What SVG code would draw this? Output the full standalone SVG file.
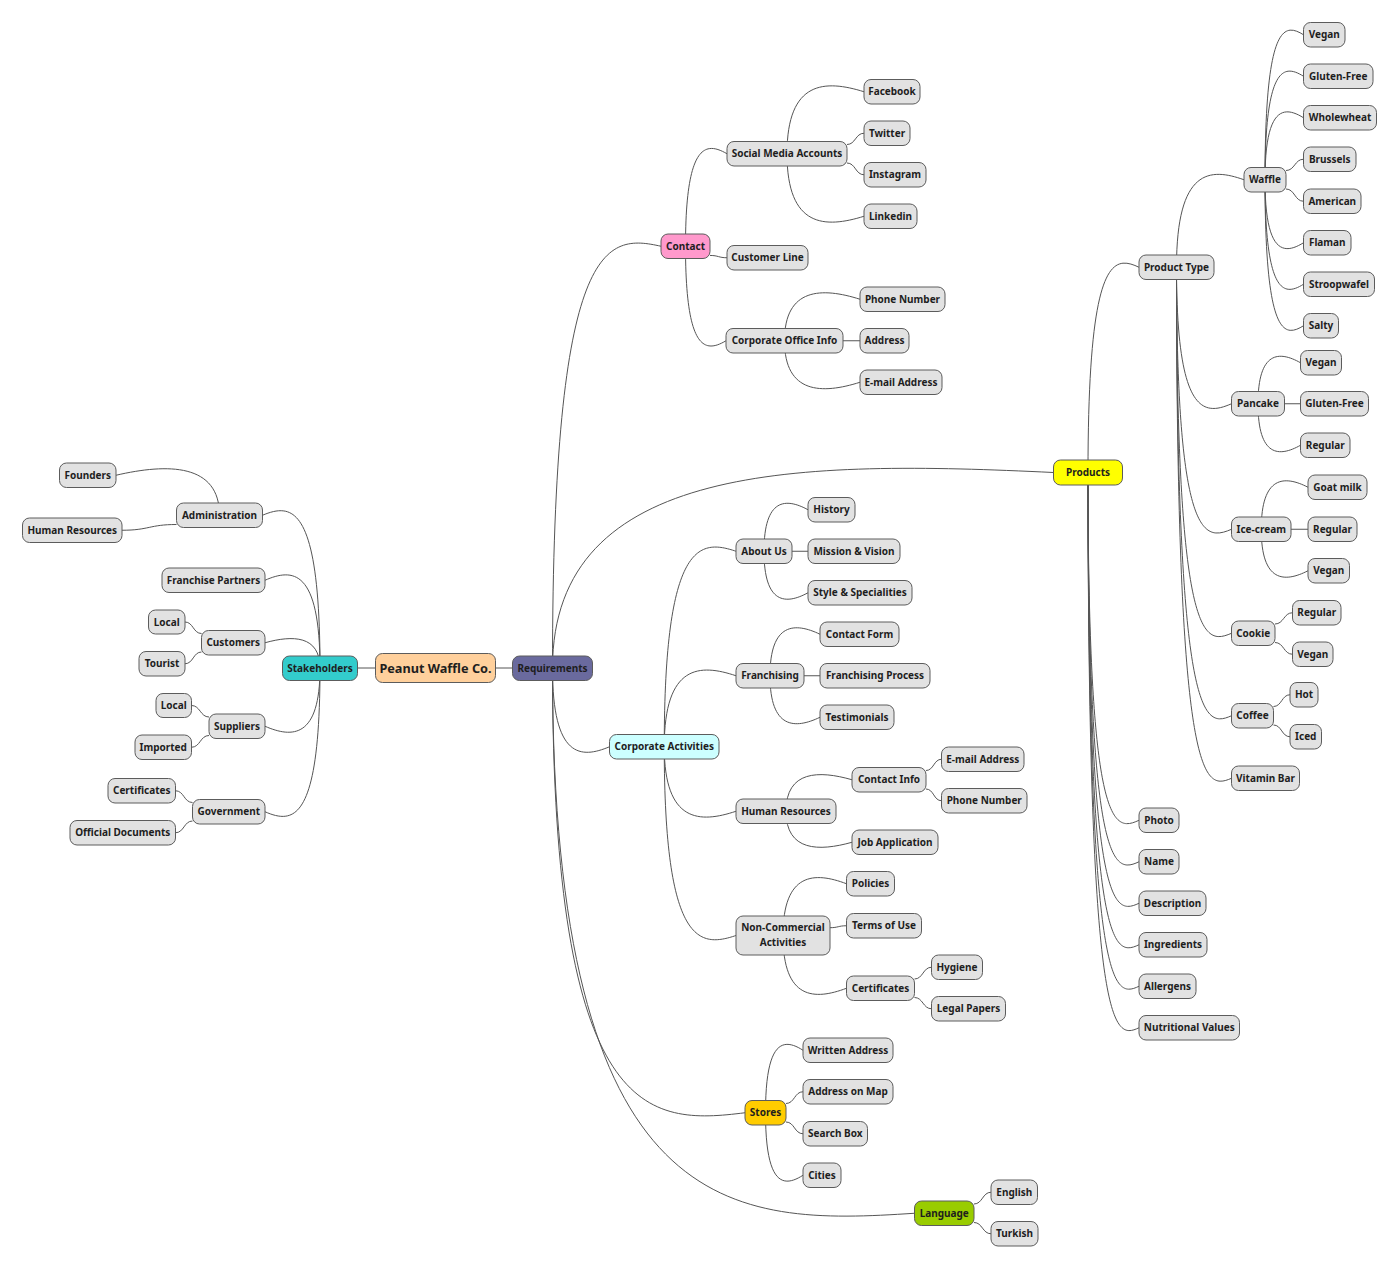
<svg xmlns="http://www.w3.org/2000/svg" width="1400" height="1270" viewBox="0 0 1400 1270">
<style>
.n rect{fill:#E2E2E2;stroke:#5c5c5c;stroke-width:1}
.n text{font-family:"Noto Sans","DejaVu Sans",sans-serif;font-weight:bold;font-size:10px;fill:#1e1e1e;text-anchor:middle}
#edges path{fill:none;stroke:#555;stroke-width:1}
</style>
<rect width="1400" height="1270" fill="#fff"/>
<g id="edges">
<path d="M357.5,668 L375.5,668"/>
<path d="M495.5,668 L512.5,668"/>
<path d="M320,668.25 C320,503.25 291.25,503.25 262.5,515.25"/>
<path d="M320,668.25 C320,568.25 292.5,568.25 265,580.25"/>
<path d="M320,668.25 C320,635.1 292.5,635.1 265,642.75"/>
<path d="M320,668.25 C320,738.25 292.5,738.25 265,726.25"/>
<path d="M320,668.25 C320,823.75 292.5,823.75 265,811.75"/>
<path d="M219.5,515.25 C219.5,463.25 167.75,463.25 116,475.25"/>
<path d="M176.5,524.5 C149.25,524.5 149.25,530.25 122,530.25"/>
<path d="M201.5,633.5 C193.25,633.5 193.25,622 185,622"/>
<path d="M201.5,652 C193.25,652 193.25,663.75 185,663.75"/>
<path d="M209,717 C200.25,717 200.25,705.5 191.5,705.5"/>
<path d="M209,735.5 C200.25,735.5 200.25,747.25 191.5,747.25"/>
<path d="M192.5,802.5 C184,802.5 184,790.75 175.5,790.75"/>
<path d="M192.5,821 C184,821 184,832.75 175.5,832.75"/>
<path d="M552.5,668.25 C552.5,234.25 606.75,234.25 661,246.25"/>
<path d="M552.5,668.25 C552.5,460.5 803,460.5 1053.5,472.5"/>
<path d="M552.5,668.25 C552.5,758.75 581,758.75 609.5,746.75"/>
<path d="M552.5,668.25 C552.5,1124.75 648.75,1124.75 745,1112.75"/>
<path d="M552.5,668.25 C552.5,1225.25 733.5,1225.25 914.5,1213.25"/>
<path d="M685.5,246.25 C685.5,141.75 706.25,141.75 727,153.75"/>
<path d="M710,255.45 C718.5,255.45 718.5,257.75 727,257.75"/>
<path d="M685.5,246.25 C685.5,352.75 705.75,352.75 726,340.75"/>
<path d="M787,153.75 C787,79.75 825.5,79.75 864,91.75"/>
<path d="M847,144.5 C855.5,144.5 855.5,133.25 864,133.25"/>
<path d="M847,163 C855.5,163 855.5,174.75 864,174.75"/>
<path d="M787,153.75 C787,228.25 825.5,228.25 864,216.25"/>
<path d="M784.5,340.75 C784.5,287.25 822.25,287.25 860,299.25"/>
<path d="M843,340.75 L860,340.75"/>
<path d="M784.5,340.75 C784.5,394.25 822.25,394.25 860,382.25"/>
<path d="M1088,472.5 C1088,255.25 1113.5,255.25 1139,267.25"/>
<path d="M1088,472.5 C1088,832.25 1113.5,832.25 1139,820.25"/>
<path d="M1088,472.5 C1088,873.75 1113.5,873.75 1139,861.75"/>
<path d="M1088,472.5 C1088,915.25 1113.5,915.25 1139,903.25"/>
<path d="M1088,472.5 C1088,956.75 1113.5,956.75 1139,944.75"/>
<path d="M1088,472.5 C1088,998.25 1113.5,998.25 1139,986.25"/>
<path d="M1088,472.5 C1088,1039.75 1113.5,1039.75 1139,1027.75"/>
<path d="M1176.5,267.25 C1176.5,167.75 1210.25,167.75 1244,179.75"/>
<path d="M1176.5,267.25 C1176.5,415.75 1204,415.75 1231.5,403.75"/>
<path d="M1176.5,267.25 C1176.5,541.25 1204,541.25 1231.5,529.25"/>
<path d="M1176.5,267.25 C1176.5,645.25 1204,645.25 1231.5,633.25"/>
<path d="M1176.5,267.25 C1176.5,727.75 1204,727.75 1231.5,715.75"/>
<path d="M1176.5,267.25 C1176.5,790.25 1204,790.25 1231.5,778.25"/>
<path d="M1265,179.75 C1265,22.75 1284.25,22.75 1303.5,34.75"/>
<path d="M1265,179.75 C1265,64.25 1284.25,64.25 1303.5,76.25"/>
<path d="M1265,179.75 C1265,105.75 1284.25,105.75 1303.5,117.75"/>
<path d="M1286,170.5 C1294.75,170.5 1294.75,159.25 1303.5,159.25"/>
<path d="M1286,189 C1294.75,189 1294.75,201.25 1303.5,201.25"/>
<path d="M1265,179.75 C1265,254.75 1284.25,254.75 1303.5,242.75"/>
<path d="M1265,179.75 C1265,296.25 1284.25,296.25 1303.5,284.25"/>
<path d="M1265,179.75 C1265,337.75 1284.25,337.75 1303.5,325.75"/>
<path d="M1258,403.75 C1258,350.75 1279.25,350.75 1300.5,362.75"/>
<path d="M1284.5,403.75 L1300.5,403.75"/>
<path d="M1258,403.75 C1258,457.25 1279.25,457.25 1300.5,445.25"/>
<path d="M1261.25,529.25 C1261.25,475.25 1284.6,475.25 1308,487.25"/>
<path d="M1291,529.25 L1308,529.25"/>
<path d="M1261.25,529.25 C1261.25,582.75 1284.6,582.75 1308,570.75"/>
<path d="M1275,624 C1283.75,624 1283.75,612.75 1292.5,612.75"/>
<path d="M1275,642.5 C1283.75,642.5 1283.75,654.25 1292.5,654.25"/>
<path d="M1273.5,706.5 C1281.75,706.5 1281.75,694.75 1290,694.75"/>
<path d="M1273.5,725 C1281.75,725 1281.75,736.75 1290,736.75"/>
<path d="M664.25,746.75 C664.25,539.25 700.1,539.25 736,551.25"/>
<path d="M664.25,746.75 C664.25,663.75 700.1,663.75 736,675.75"/>
<path d="M664.25,746.75 C664.25,823.25 700.1,823.25 736,811.25"/>
<path d="M664.25,746.75 C664.25,947.5 700.1,947.5 736,935.5"/>
<path d="M764,551.25 C764,497.75 786,497.75 808,509.75"/>
<path d="M792,551.25 L808,551.25"/>
<path d="M764,551.25 C764,604.75 786,604.75 808,592.75"/>
<path d="M770,675.75 C770,622.25 795,622.25 820,634.25"/>
<path d="M804,675.75 L820,675.75"/>
<path d="M770,675.75 C770,729.25 795,729.25 820,717.25"/>
<path d="M786,811.25 C786,770.3 819,770.3 852,779.75"/>
<path d="M786,811.25 C786,851.55 819,851.55 852,842.25"/>
<path d="M926,770.5 C933.75,770.5 933.75,759.25 941.5,759.25"/>
<path d="M926,789 C933.75,789 933.75,800.75 941.5,800.75"/>
<path d="M783,935.5 C783,871.75 814.75,871.75 846.5,883.75"/>
<path d="M830,927.7 C838.25,927.7 838.25,925.75 846.5,925.75"/>
<path d="M783,935.5 C783,1000.25 814.75,1000.25 846.5,988.25"/>
<path d="M914.5,979 C923,979 923,967.25 931.5,967.25"/>
<path d="M914.5,997.5 C923,997.5 923,1008.75 931.5,1008.75"/>
<path d="M765.5,1112.75 C765.5,1038.25 784.25,1038.25 803,1050.25"/>
<path d="M786,1103.5 C794.5,1103.5 794.5,1091.75 803,1091.75"/>
<path d="M786,1122 C794.5,1122 794.5,1133.75 803,1133.75"/>
<path d="M765.5,1112.75 C765.5,1187.25 784.25,1187.25 803,1175.25"/>
<path d="M974,1204 C982.5,1204 982.5,1192.25 991,1192.25"/>
<path d="M974,1222.5 C982.5,1222.5 982.5,1233.75 991,1233.75"/>
</g>
<g id="n-root" class="n"><rect x="375.5" y="653.5" width="120" height="29" rx="7" style="fill:#FFD09C"/><text x="435.5" y="672.5" style="font-size:12.7px">Peanut Waffle Co.</text></g>
<g id="n-stakeholders" class="n"><rect x="282.5" y="656" width="75" height="24.5" rx="7" style="fill:#33CCCC"/><text x="320" y="671.8">Stakeholders</text></g>
<g id="n-requirements" class="n"><rect x="512.5" y="656" width="80" height="24.5" rx="7" style="fill:#6A6A9E"/><text x="552.5" y="671.8">Requirements</text></g>
<g id="n-administration" class="n"><rect x="176.5" y="503" width="86" height="24.5" rx="7"/><text x="219.5" y="518.8">Administration</text></g>
<g id="n-founders" class="n"><rect x="59.5" y="463" width="56.5" height="24.5" rx="7"/><text x="87.75" y="478.8">Founders</text></g>
<g id="n-hr-left" class="n"><rect x="22.5" y="518" width="99.5" height="24.5" rx="7"/><text x="72.25" y="533.8">Human Resources</text></g>
<g id="n-franchise-partners" class="n"><rect x="162" y="568" width="103" height="24.5" rx="7"/><text x="213.5" y="583.8">Franchise Partners</text></g>
<g id="n-customers" class="n"><rect x="201.5" y="630.5" width="63.5" height="24.5" rx="7"/><text x="233.25" y="646.3">Customers</text></g>
<g id="n-cust-local" class="n"><rect x="148.5" y="610" width="36.5" height="24" rx="7"/><text x="166.75" y="625.6">Local</text></g>
<g id="n-tourist" class="n"><rect x="139" y="651.5" width="46" height="24.5" rx="7"/><text x="162" y="667.3">Tourist</text></g>
<g id="n-suppliers" class="n"><rect x="209" y="714" width="56" height="24.5" rx="7"/><text x="237" y="729.8">Suppliers</text></g>
<g id="n-supp-local" class="n"><rect x="156" y="693.5" width="35.5" height="24" rx="7"/><text x="173.75" y="709.1">Local</text></g>
<g id="n-imported" class="n"><rect x="135" y="735" width="56.5" height="24.5" rx="7"/><text x="163.25" y="750.8">Imported</text></g>
<g id="n-government" class="n"><rect x="192.5" y="799.5" width="72.5" height="24.5" rx="7"/><text x="228.75" y="815.3">Government</text></g>
<g id="n-gov-certificates" class="n"><rect x="108" y="778.5" width="67.5" height="24.5" rx="7"/><text x="141.75" y="794.3">Certificates</text></g>
<g id="n-official-documents" class="n"><rect x="70" y="820.5" width="105.5" height="24.5" rx="7"/><text x="122.75" y="836.3">Official Documents</text></g>
<g id="n-contact" class="n"><rect x="661" y="234" width="49" height="24.5" rx="7" style="fill:#FF99CC"/><text x="685.5" y="249.8">Contact</text></g>
<g id="n-social-media" class="n"><rect x="727" y="141.5" width="120" height="24.5" rx="7"/><text x="787" y="157.3">Social Media Accounts</text></g>
<g id="n-facebook" class="n"><rect x="864" y="79.5" width="56" height="24.5" rx="7"/><text x="892" y="95.3">Facebook</text></g>
<g id="n-twitter" class="n"><rect x="864" y="121" width="46" height="24.5" rx="7"/><text x="887" y="136.8">Twitter</text></g>
<g id="n-instagram" class="n"><rect x="864" y="162.5" width="62" height="24.5" rx="7"/><text x="895" y="178.3">Instagram</text></g>
<g id="n-linkedin" class="n"><rect x="864" y="204" width="53" height="24.5" rx="7"/><text x="890.5" y="219.8">Linkedin</text></g>
<g id="n-customer-line" class="n"><rect x="727" y="245.5" width="81" height="24.5" rx="7"/><text x="767.5" y="261.3">Customer Line</text></g>
<g id="n-corp-office" class="n"><rect x="726" y="328.5" width="117" height="24.5" rx="7"/><text x="784.5" y="344.3">Corporate Office Info</text></g>
<g id="n-coi-phone" class="n"><rect x="860" y="287" width="85" height="24.5" rx="7"/><text x="902.5" y="302.8">Phone Number</text></g>
<g id="n-coi-address" class="n"><rect x="860" y="328.5" width="49" height="24.5" rx="7"/><text x="884.5" y="344.3">Address</text></g>
<g id="n-coi-email" class="n"><rect x="860" y="370" width="82" height="24.5" rx="7"/><text x="901" y="385.8">E-mail Address</text></g>
<g id="n-products" class="n"><rect x="1053.5" y="460" width="69" height="25" rx="7" style="fill:#FFFF00"/><text x="1088" y="476.1">Products</text></g>
<g id="n-product-type" class="n"><rect x="1139" y="255" width="75" height="24.5" rx="7"/><text x="1176.5" y="270.8">Product Type</text></g>
<g id="n-waffle" class="n"><rect x="1244" y="167.5" width="42" height="24.5" rx="7"/><text x="1265" y="183.3">Waffle</text></g>
<g id="n-waffle-vegan" class="n"><rect x="1303.5" y="22.5" width="41.5" height="24.5" rx="7"/><text x="1324.25" y="38.3">Vegan</text></g>
<g id="n-waffle-gluten" class="n"><rect x="1303.5" y="64" width="69.5" height="24.5" rx="7"/><text x="1338.25" y="79.8">Gluten-Free</text></g>
<g id="n-wholewheat" class="n"><rect x="1303.5" y="105.5" width="73" height="24.5" rx="7"/><text x="1340" y="121.3">Wholewheat</text></g>
<g id="n-brussels" class="n"><rect x="1303.5" y="147" width="52.5" height="24.5" rx="7"/><text x="1329.75" y="162.8">Brussels</text></g>
<g id="n-american" class="n"><rect x="1303.5" y="189" width="57.5" height="24.5" rx="7"/><text x="1332.25" y="204.8">American</text></g>
<g id="n-flaman" class="n"><rect x="1303.5" y="230.5" width="47.5" height="24.5" rx="7"/><text x="1327.25" y="246.3">Flaman</text></g>
<g id="n-stroopwafel" class="n"><rect x="1303.5" y="272" width="71" height="24.5" rx="7"/><text x="1339" y="287.8">Stroopwafel</text></g>
<g id="n-salty" class="n"><rect x="1303.5" y="313.5" width="35" height="24.5" rx="7"/><text x="1321" y="329.3">Salty</text></g>
<g id="n-pancake" class="n"><rect x="1231.5" y="391.5" width="53" height="24.5" rx="7"/><text x="1258" y="407.3">Pancake</text></g>
<g id="n-pancake-vegan" class="n"><rect x="1300.5" y="350.5" width="41" height="24.5" rx="7"/><text x="1321" y="366.3">Vegan</text></g>
<g id="n-pancake-gluten" class="n"><rect x="1300.5" y="391.5" width="68" height="24.5" rx="7"/><text x="1334.5" y="407.3">Gluten-Free</text></g>
<g id="n-pancake-regular" class="n"><rect x="1300.5" y="433" width="49.5" height="24.5" rx="7"/><text x="1325.25" y="448.8">Regular</text></g>
<g id="n-icecream" class="n"><rect x="1231.5" y="517" width="59.5" height="24.5" rx="7"/><text x="1261.25" y="532.8">Ice-cream</text></g>
<g id="n-goat-milk" class="n"><rect x="1308" y="475" width="59" height="24.5" rx="7"/><text x="1337.5" y="490.8">Goat milk</text></g>
<g id="n-icecream-regular" class="n"><rect x="1308" y="517" width="49" height="24.5" rx="7"/><text x="1332.5" y="532.8">Regular</text></g>
<g id="n-icecream-vegan" class="n"><rect x="1308" y="558.5" width="41.5" height="24.5" rx="7"/><text x="1328.75" y="574.3">Vegan</text></g>
<g id="n-cookie" class="n"><rect x="1231.5" y="621" width="43.5" height="24.5" rx="7"/><text x="1253.25" y="636.8">Cookie</text></g>
<g id="n-cookie-regular" class="n"><rect x="1292.5" y="600.5" width="48.5" height="24.5" rx="7"/><text x="1316.75" y="616.3">Regular</text></g>
<g id="n-cookie-vegan" class="n"><rect x="1292.5" y="642" width="40.5" height="24.5" rx="7"/><text x="1312.75" y="657.8">Vegan</text></g>
<g id="n-coffee" class="n"><rect x="1231.5" y="703.5" width="42" height="24.5" rx="7"/><text x="1252.5" y="719.3">Coffee</text></g>
<g id="n-hot" class="n"><rect x="1290" y="682.5" width="28" height="24.5" rx="7"/><text x="1304" y="698.3">Hot</text></g>
<g id="n-iced" class="n"><rect x="1290" y="724.5" width="31.5" height="24.5" rx="7"/><text x="1305.75" y="740.3">Iced</text></g>
<g id="n-vitamin-bar" class="n"><rect x="1231.5" y="766" width="68" height="24.5" rx="7"/><text x="1265.5" y="781.8">Vitamin Bar</text></g>
<g id="n-photo" class="n"><rect x="1139" y="808" width="40" height="24.5" rx="7"/><text x="1159" y="823.8">Photo</text></g>
<g id="n-name" class="n"><rect x="1139" y="849.5" width="40" height="24.5" rx="7"/><text x="1159" y="865.3">Name</text></g>
<g id="n-description" class="n"><rect x="1139" y="891" width="67" height="24.5" rx="7"/><text x="1172.5" y="906.8">Description</text></g>
<g id="n-ingredients" class="n"><rect x="1139" y="932.5" width="68" height="24.5" rx="7"/><text x="1173" y="948.3">Ingredients</text></g>
<g id="n-allergens" class="n"><rect x="1139" y="974" width="57" height="24.5" rx="7"/><text x="1167.5" y="989.8">Allergens</text></g>
<g id="n-nutritional" class="n"><rect x="1139" y="1015.5" width="100.5" height="24.5" rx="7"/><text x="1189.25" y="1031.3">Nutritional Values</text></g>
<g id="n-corporate-activities" class="n"><rect x="609.5" y="734.5" width="109.5" height="24.5" rx="7" style="fill:#CCFFFF"/><text x="664.25" y="750.3">Corporate Activities</text></g>
<g id="n-about-us" class="n"><rect x="736" y="539" width="56" height="24.5" rx="7"/><text x="764" y="554.8">About Us</text></g>
<g id="n-history" class="n"><rect x="808" y="497.5" width="47" height="24.5" rx="7"/><text x="831.5" y="513.3">History</text></g>
<g id="n-mission" class="n"><rect x="808" y="539" width="92" height="24.5" rx="7"/><text x="854" y="554.8">Mission &amp; Vision</text></g>
<g id="n-style" class="n"><rect x="808" y="580.5" width="104" height="24.5" rx="7"/><text x="860" y="596.3">Style &amp; Specialities</text></g>
<g id="n-franchising" class="n"><rect x="736" y="663.5" width="68" height="24.5" rx="7"/><text x="770" y="679.3">Franchising</text></g>
<g id="n-contact-form" class="n"><rect x="820" y="622" width="79" height="24.5" rx="7"/><text x="859.5" y="637.8">Contact Form</text></g>
<g id="n-franchising-process" class="n"><rect x="820" y="663.5" width="110" height="24.5" rx="7"/><text x="875" y="679.3">Franchising Process</text></g>
<g id="n-testimonials" class="n"><rect x="820" y="705" width="74" height="24.5" rx="7"/><text x="857" y="720.8">Testimonials</text></g>
<g id="n-human-resources" class="n"><rect x="736" y="799" width="100" height="24.5" rx="7"/><text x="786" y="814.8">Human Resources</text></g>
<g id="n-contact-info" class="n"><rect x="852" y="767.5" width="74" height="24.5" rx="7"/><text x="889" y="783.3">Contact Info</text></g>
<g id="n-ci-email" class="n"><rect x="941.5" y="747" width="82.5" height="24.5" rx="7"/><text x="982.75" y="762.8">E-mail Address</text></g>
<g id="n-ci-phone" class="n"><rect x="941.5" y="788.5" width="85.5" height="24.5" rx="7"/><text x="984.25" y="804.3">Phone Number</text></g>
<g id="n-job-application" class="n"><rect x="852" y="830" width="86" height="24.5" rx="7"/><text x="895" y="845.8">Job Application</text></g>
<g id="n-non-commercial" class="n"><rect x="736" y="916" width="94" height="39" rx="7"/><text x="783" y="930.6">Non-Commercial</text><text x="783" y="945.6">Activities</text></g>
<g id="n-policies" class="n"><rect x="846.5" y="871.5" width="48" height="24.5" rx="7"/><text x="870.5" y="887.3">Policies</text></g>
<g id="n-terms" class="n"><rect x="846.5" y="913.5" width="75" height="24.5" rx="7"/><text x="884" y="929.3">Terms of Use</text></g>
<g id="n-nca-certificates" class="n"><rect x="846.5" y="976" width="68" height="24.5" rx="7"/><text x="880.5" y="991.8">Certificates</text></g>
<g id="n-hygiene" class="n"><rect x="931.5" y="955" width="51" height="24.5" rx="7"/><text x="957" y="970.8">Hygiene</text></g>
<g id="n-legal-papers" class="n"><rect x="931.5" y="996.5" width="74" height="24.5" rx="7"/><text x="968.5" y="1012.3">Legal Papers</text></g>
<g id="n-stores" class="n"><rect x="745" y="1100.5" width="41" height="24.5" rx="7" style="fill:#FFCC00"/><text x="765.5" y="1116.3">Stores</text></g>
<g id="n-written-address" class="n"><rect x="803" y="1038" width="90" height="24.5" rx="7"/><text x="848" y="1053.8">Written Address</text></g>
<g id="n-address-map" class="n"><rect x="803" y="1079.5" width="90" height="24.5" rx="7"/><text x="848" y="1095.3">Address on Map</text></g>
<g id="n-search-box" class="n"><rect x="803" y="1121.5" width="64.5" height="24.5" rx="7"/><text x="835.25" y="1137.3">Search Box</text></g>
<g id="n-cities" class="n"><rect x="803" y="1163" width="38" height="24.5" rx="7"/><text x="822" y="1178.8">Cities</text></g>
<g id="n-language" class="n"><rect x="914.5" y="1201" width="59.5" height="24.5" rx="7" style="fill:#99CC00"/><text x="944.25" y="1216.8">Language</text></g>
<g id="n-english" class="n"><rect x="991" y="1180" width="46.5" height="24.5" rx="7"/><text x="1014.25" y="1195.8">English</text></g>
<g id="n-turkish" class="n"><rect x="991" y="1221.5" width="47" height="24.5" rx="7"/><text x="1014.5" y="1237.3">Turkish</text></g>
</svg>
